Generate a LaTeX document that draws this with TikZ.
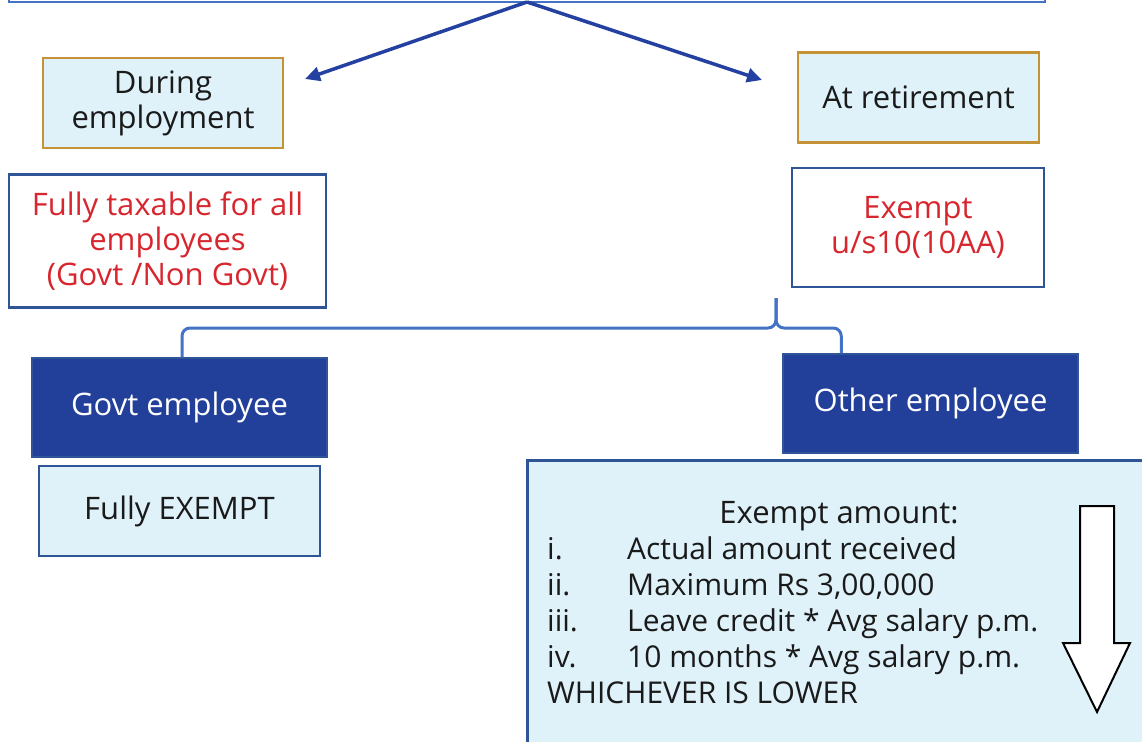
\documentclass[tikz,border=0pt]{standalone}
\usepackage{fontspec}
\setmainfont{Open Sans}
\usetikzlibrary{arrows.meta}
\definecolor{paleblue}{HTML}{DFF2FA}
\definecolor{goldline}{HTML}{C39335}
\definecolor{boxblue}{HTML}{2F5597}
\definecolor{navy}{HTML}{22409A}
\definecolor{linkblue}{HTML}{4472C4}
\definecolor{arrowblue}{HTML}{2440A0}
\definecolor{textred}{HTML}{D7262E}
\definecolor{ink}{HTML}{1A1A1A}
\begin{document}
\begin{tikzpicture}[x=1pt,y=-1pt,
  every node/.style={font=\fontsize{31}{35}\selectfont, inner sep=0pt, align=center},
  goldbox/.style={draw=goldline, fill=paleblue, line width=2.5pt, text=ink},
  outlinebox/.style={draw=boxblue, fill=white, line width=2.5pt, text=textred},
  solidbox/.style={draw=boxblue, fill=navy, line width=1.5pt, text=white},
  palebox/.style={draw=boxblue, fill=paleblue, line width=2.5pt, text=ink},
  split/.style={draw=arrowblue, line width=3.5pt, -{Triangle[length=15pt,width=14pt]}},
  bracket/.style={draw=linkblue, line width=3pt, rounded corners=8pt},
]
\useasboundingbox (0,0) rectangle (1142,741);

% source box (only its lower edge is in view)
\node[draw=linkblue, fill=white, line width=2.5pt, minimum width=1036pt, minimum height=60pt] (source) at (527,-28) {};

% first split
\coordinate (apex) at (527,2);
\coordinate (tipL) at (305,79);
\coordinate (tipR) at (762,80);
\draw[split] (apex) -- (tipL);
\draw[split] (apex) -- (tipR);

\node[goldbox, minimum width=240pt, minimum height=90pt] (during) at (163,103) {During\\employment};
\node[goldbox, minimum width=241pt, minimum height=90pt] (retire) at (918.5,97.5) {At retirement};

\node[outlinebox, minimum width=317pt, minimum height=133pt] (taxable) at (167.5,241) {Fully taxable for all\\employees\\(Govt /Non Govt)};
\node[outlinebox, minimum width=252pt, minimum height=119pt] (exempt) at (918,227.5) {Exempt\\u/s10(10AA)};

% employee categories
\node[solidbox, minimum width=295pt, minimum height=99pt] (govt) at (179.5,407.5) {Govt employee};
\node[solidbox, minimum width=295pt, minimum height=99pt] (other) at (930.5,403.5) {Other employee};

% brace joining the two categories
\coordinate (cusp) at (776,298);
\coordinate (cuspbase) at (776,328);
\draw[bracket] ([xshift=2.5pt]govt.north) |- (cuspbase) -- (cusp);
\draw[bracket] ([xshift=59pt]other.north west) |- (cuspbase) -- (cusp);

\node[palebox, minimum width=281pt, minimum height=90pt] (fullyex) at (179.5,511) {Fully EXEMPT};

% exemption rule for other employees
\node[palebox, minimum width=640pt, minimum height=300pt, anchor=north west] (amount) at (526,459) {};
\node[anchor=base, text=ink] (amthead) at (839,523) {Exempt amount:};
\node[anchor=base west, text=ink, align=left, font=\fontsize{30}{36}\selectfont] (amtlist) at (547,559)
  {\begin{tabular}[t]{@{}p{80pt}@{}l@{}}
   i. & Actual amount received\\
   ii. & Maximum Rs 3,00,000\\
   iii. & Leave credit * Avg salary p.m.\\
   iv. & 10 months * Avg salary p.m.\\
   \multicolumn{2}{@{}l@{}}{WHICHEVER IS LOWER}
   \end{tabular}};

% downward block arrow
\draw[black, line width=2pt, fill=white, line join=miter]
  (1080,506) -- (1114,506) -- (1114,643) -- (1130,643) -- (1097,712) -- (1063,643) -- (1080,643) -- cycle;
\end{tikzpicture}
\end{document}
